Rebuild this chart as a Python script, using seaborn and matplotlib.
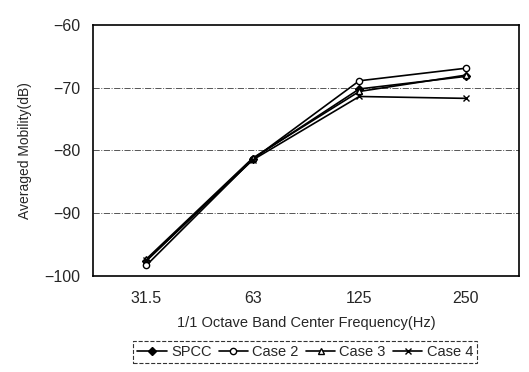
import pandas as pd
import numpy as np
import matplotlib
matplotlib.use("Agg")
import matplotlib.pyplot as plt
import seaborn as sns

# ============================
#       Data
# ============================
freqs = ["31.5", "63", "125", "250"]
spcc = [-97.6, -81.3, -70.2, -68.2]
case2 = [-98.3, -81.4, -68.9, -66.9]
case3 = [-97.3, -81.2, -70.6, -68.0]
case4 = [-97.5, -81.5, -71.4, -71.7]

series = {"SPCC": spcc, "Case 2": case2, "Case 3": case3, "Case 4": case4}
markers = {"SPCC": "D", "Case 2": "o", "Case 3": "^", "Case 4": "x"}
fills = {"SPCC": "black", "Case 2": "white", "Case 3": "white", "Case 4": "black"}

df = pd.concat(
    [pd.DataFrame({"freq": freqs, "mobility": v, "case": k}) for k, v in series.items()],
    ignore_index=True,
)
df["pos"] = df["freq"].map({f: i for i, f in enumerate(freqs)})

# ============================
#       Plot
# ============================
sns.set_theme(style="white")
plt.rcParams["font.family"] = ["Liberation Sans", "DejaVu Sans"]

fig = plt.figure(figsize=(5.29, 3.72), dpi=100)
ax = fig.add_axes([0.176, 0.258, 0.805, 0.675])

for name in series:
    sub = df[df["case"] == name]
    sns.lineplot(data=sub, x="pos", y="mobility", ax=ax, color="black",
                 linewidth=1.2, marker=markers[name], markersize=4.5,
                 markerfacecolor=fills[name], markeredgecolor="black",
                 markeredgewidth=1.0, label=name)

ax.set_xlim(-0.5, len(freqs) - 0.5)
ax.set_ylim(-100, -60)
ax.set_yticks([-100, -90, -80, -70, -60])
ax.set_xticks(range(len(freqs)))
ax.set_xticklabels(freqs)
ax.set_xticks(np.arange(-0.5, len(freqs)), minor=True)
ax.tick_params(axis="x", which="major", length=0, labelsize=11.5, pad=11)
ax.tick_params(axis="x", which="minor", length=3, direction="in", color="black")
ax.tick_params(axis="y", labelsize=11.5, length=0, pad=9)

for yv in [-90, -80, -70]:
    ax.axhline(yv, color="#555555", linestyle="-.", linewidth=0.7, zorder=0)

for s in ax.spines.values():
    s.set_color("black")
    s.set_linewidth(1.2)

ax.set_xlabel("1/1 Octave Band Center Frequency(Hz)", fontsize=10.5, labelpad=7)
ax.set_ylabel("Averaged Mobility(dB)", fontsize=10, labelpad=9)

handles, labels = ax.get_legend_handles_labels()
ax.legend_.remove()
leg = fig.legend(handles, labels, loc="center", bbox_to_anchor=(0.577, 0.054),
                 ncol=4, frameon=True, fontsize=10.5, handlelength=2.0,
                 handletextpad=0.3, columnspacing=0.5, borderpad=0.3,
                 fancybox=False)
leg.get_frame().set_edgecolor("black")
leg.get_frame().set_linestyle("--")
leg.get_frame().set_linewidth(0.8)

fig.savefig("out.png", dpi=100)
